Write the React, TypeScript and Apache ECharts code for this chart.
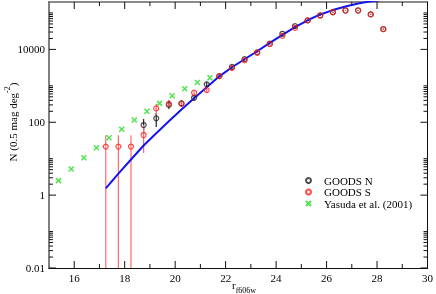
import React, { useEffect, useRef } from 'react';
import * as echarts from 'echarts';

const FONT = 'Liberation Serif';

const xMin = 15;
const xMax = 30;
const yMin = 0.01;
const yMax = 200000;

const xMajorTicks = [16, 18, 20, 22, 24, 26, 28, 30];
const xMinorTicks = [17, 19, 21, 23, 25, 27, 29];
const yMajorTicks = [0.01, 1, 100, 10000];
const yMinorTicks = [
  0.02, 0.03, 0.04, 0.05, 0.06, 0.07, 0.08, 0.09, 0.1,
  2, 3, 4, 5, 6, 7, 8, 9, 10,
  200, 300, 400, 500, 600, 700, 800, 900, 1000,
  20000, 30000, 40000, 50000, 60000, 70000, 80000, 90000, 100000,
];

const goodsSMag = [17.25, 17.75, 18.25, 18.75, 19.25, 19.75, 20.25, 20.75, 21.25, 21.75, 22.25, 22.75, 23.25, 23.75, 24.25, 24.75, 25.25, 25.75, 26.25, 26.75, 27.25, 27.75, 28.25];
const goodsS = [21.5, 21.5, 21.5, 44.6, 240, 320, 320, 646, 764, 1850, 3070, 4990, 8070, 13960, 23650, 39200, 62400, 85500, 105000, 117000, 117000, 91300, 36000];
const goodsSLo = [0.01, 0.01, 0.01, 14.3, 158, 250, 260, 560, 660, 1650, 2850, 4700, 7700, 13400, 22800, 38000, 60800, 83500, 102000, 114000, 114000, 88500, 34500];
const goodsSHi = [44, 44, 44, 84, 316, 400, 390, 740, 880, 2050, 3300, 5300, 8450, 14500, 24500, 40400, 64000, 87500, 108000, 120000, 120000, 94000, 37500];

const goodsNMag = [18.75, 19.25, 19.75, 20.25, 20.75, 21.25, 21.75, 22.25, 22.75, 23.25, 23.75, 24.25, 24.75, 25.25, 25.75, 26.25, 26.75, 27.25, 27.75, 28.25];
const goodsN = [84, 128, 300, 330, 470, 1100, 1850, 3300, 5400, 8300, 14300, 26800, 43500, 62400, 85500, 105000, 117000, 117000, 91300, 36000];
const goodsNLo = [50, 74, 230, 270, 390, 950, 1650, 3050, 5100, 7900, 13700, 25800, 42000, 60500, 83000, 102000, 113500, 113500, 88000, 34500];
const goodsNHi = [122, 179, 400, 400, 570, 1300, 2050, 3550, 5700, 8700, 14900, 27800, 45000, 64300, 88000, 108000, 120500, 120500, 94500, 37500];

const yasudaMag = [15.38, 15.88, 16.38, 16.88, 17.38, 17.88, 18.38, 18.88, 19.38, 19.88, 20.38, 20.88, 21.38];
const yasudaN = [2.5, 5.2, 10.6, 20, 37.6, 64, 115, 200, 330, 533, 830, 1240, 1660];

const modelMag = [17.25, 17.75, 18.25, 18.75, 19.25, 19.75, 20.25, 20.75, 21.25, 21.75, 22.25, 22.75, 23.25, 23.75, 24.25, 24.75, 25.25, 25.75, 26.25, 26.75, 27.25, 27.75, 28.25];
const modelN = [1.54, 3.9, 9.5, 23, 50, 107, 224, 457, 912, 1820, 3240, 5370, 8900, 15100, 25100, 40700, 63000, 91000, 120000, 151000, 182000, 209000, 229000];

const RED = '#ff1a1a';
const RED_BAR = '#ff6a6a';
const BLACK = '#222222';
const GREEN = '#22dd22';
const BLUE = '#1414f0';

function errSeries(mags: number[], lo: number[], hi: number[], color: string, z: number) {
  return {
    type: 'custom',
    silent: true,
    z,
    encode: { x: 0, y: [1, 2] },
    data: mags.map((m, i) => [m, lo[i], hi[i]]),
    renderItem: (params: any, api: any) => {
      const p1 = api.coord([api.value(0), api.value(1)]);
      const p2 = api.coord([api.value(0), api.value(2)]);
      return {
        type: 'line',
        shape: { x1: p1[0], y1: p1[1], x2: p2[0], y2: p2[1] },
        style: { stroke: color, lineWidth: 1.2 },
      };
    },
  };
}

function tickSeries(dir: 'x' | 'y', values: number[], len: number) {
  return {
    type: 'custom',
    silent: true,
    z: 10,
    encode: { x: 0, y: 1 },
    data: values.map((v) => (dir === 'x' ? [v, yMin] : [xMin, v])),
    renderItem: (params: any, api: any) => {
      const cs = params.coordSys;
      const p = api.coord([api.value(0), api.value(1)]);
      const st = { stroke: '#111', lineWidth: 1 };
      if (dir === 'x') {
        const bottom = cs.y + cs.height;
        return {
          type: 'group',
          children: [
            { type: 'line', shape: { x1: p[0], y1: bottom, x2: p[0], y2: bottom - len }, style: st },
            { type: 'line', shape: { x1: p[0], y1: cs.y, x2: p[0], y2: cs.y + len }, style: st },
          ],
        };
      }
      const right = cs.x + cs.width;
      return {
        type: 'group',
        children: [
          { type: 'line', shape: { x1: cs.x, y1: p[1], x2: cs.x + len, y2: p[1] }, style: st },
          { type: 'line', shape: { x1: right, y1: p[1], x2: right - len, y2: p[1] }, style: st },
        ],
      };
    },
  };
}

function isMajorY(v: number) {
  return yMajorTicks.some((t) => Math.abs(t - v) / t < 1e-6);
}

export default function App() {
  const ref = useRef<HTMLDivElement>(null);
  useEffect(() => {
    if (!ref.current) return;
    const chart = echarts.init(ref.current, undefined, { renderer: 'svg' });
    const baseX = {
      type: 'value',
      min: xMin,
      max: xMax,
      interval: 1,
      splitLine: { show: false },
      axisTick: { show: false },
    };
    const baseY = {
      type: 'log',
      logBase: 100,
      min: yMin,
      max: yMax,
      splitLine: { show: false },
      axisTick: { show: false },
      minorTick: { show: false },
    };
    chart.setOption({
      animation: false,
      grid: { left: 49, right: 6.5, top: 2, bottom: 26, containLabel: false },
      xAxis: [
        {
          ...baseX,
          position: 'bottom',
          axisLine: { lineStyle: { color: '#111', width: 1 } },
          axisLabel: {
            color: '#000',
            fontFamily: FONT,
            fontSize: 11,
            margin: 4,
            formatter: (v: number) => (xMajorTicks.includes(v) ? String(v) : ''),
          },
        },
        {
          ...baseX,
          position: 'top',
          axisLine: { lineStyle: { color: '#666', width: 1.5 } },
          axisLabel: { show: false },
        },
      ],
      yAxis: [
        {
          ...baseY,
          position: 'left',
          axisLine: { lineStyle: { color: '#808080', width: 2 } },
          axisLabel: {
            color: '#000',
            fontFamily: FONT,
            fontSize: 11,
            margin: 4,
            showMaxLabel: false,
            formatter: (v: number) => {
              const s = Number(v.toPrecision(6));
              return isMajorY(s) ? String(s) : '';
            },
          },
        },
        {
          ...baseY,
          position: 'right',
          axisLine: { lineStyle: { color: '#111', width: 1 } },
          axisLabel: { show: false },
        },
      ],
      legend: {
        orient: 'vertical',
        left: 305,
        top: 175,
        itemWidth: 5,
        itemHeight: 5,
        itemGap: 0.5,
        padding: 0,
        textStyle: { fontFamily: FONT, fontSize: 11, color: '#000', lineHeight: 11, padding: [0, 0, 0, 8] },
        data: ['GOODS N', 'GOODS S', 'Yasuda et al. (2001)'],
      },
      graphic: [
        {
          type: 'text',
          x: 11,
          y: 122,
          rotation: Math.PI / 2,
          style: {
            text: '{m|N (0.5 mag deg}{s|-2}{m|)}',
            align: 'center',
            verticalAlign: 'middle',
            fill: '#000',
            rich: {
              m: { fontFamily: FONT, fontSize: 11, lineHeight: 15, verticalAlign: 'bottom', fill: '#000' },
              s: { fontFamily: FONT, fontSize: 8, lineHeight: 15, verticalAlign: 'top', fill: '#000' },
            },
          },
        },
        {
          type: 'text',
          x: 232,
          y: 287,
          style: {
            text: '{m|r}{s|f606w}',
            align: 'left',
            verticalAlign: 'middle',
            fill: '#000',
            rich: {
              m: { fontFamily: FONT, fontSize: 11, lineHeight: 15, verticalAlign: 'top', fill: '#000' },
              s: { fontFamily: FONT, fontSize: 8, lineHeight: 15, verticalAlign: 'bottom', fill: '#000' },
            },
          },
        },
      ],
      series: [
        errSeries(goodsNMag, goodsNLo, goodsNHi, BLACK, 1),
        errSeries(goodsSMag, goodsSLo, goodsSHi, RED_BAR, 2),
        {
          name: 'model',
          type: 'line',
          z: 3,
          data: modelMag.map((m, i) => [m, modelN[i]]),
          showSymbol: false,
          symbol: 'none',
          lineStyle: { color: BLUE, width: 2 },
          silent: true,
        },
        {
          name: 'Yasuda et al. (2001)',
          type: 'scatter',
          z: 4,
          symbol: 'path://M0,0L10,10M10,0L0,10',
          symbolSize: 5,
          data: yasudaMag.map((m, i) => [m, yasudaN[i]]),
          itemStyle: { color: 'transparent', borderColor: GREEN, borderWidth: 1.5 },
        },
        {
          name: 'GOODS N',
          type: 'scatter',
          z: 5,
          symbol: 'circle',
          symbolSize: 5,
          data: goodsNMag.map((m, i) => [m, goodsN[i]]),
          itemStyle: { color: 'transparent', borderColor: BLACK, borderWidth: 1.2 },
        },
        {
          name: 'GOODS S',
          type: 'scatter',
          z: 6,
          symbol: 'circle',
          symbolSize: 5,
          data: goodsSMag.map((m, i) => [m, goodsS[i]]),
          itemStyle: { color: 'transparent', borderColor: RED, borderWidth: 1.2 },
        },
        tickSeries('x', xMajorTicks, 7),
        tickSeries('x', xMinorTicks, 4),
        tickSeries('y', yMajorTicks, 7),
        tickSeries('y', yMinorTicks, 4),
      ],
    });
    return () => chart.dispose();
  }, []);
  return <div ref={ref} style={{ position: 'fixed', left: 0, top: 0, width: 436, height: 294 }} />;
}
